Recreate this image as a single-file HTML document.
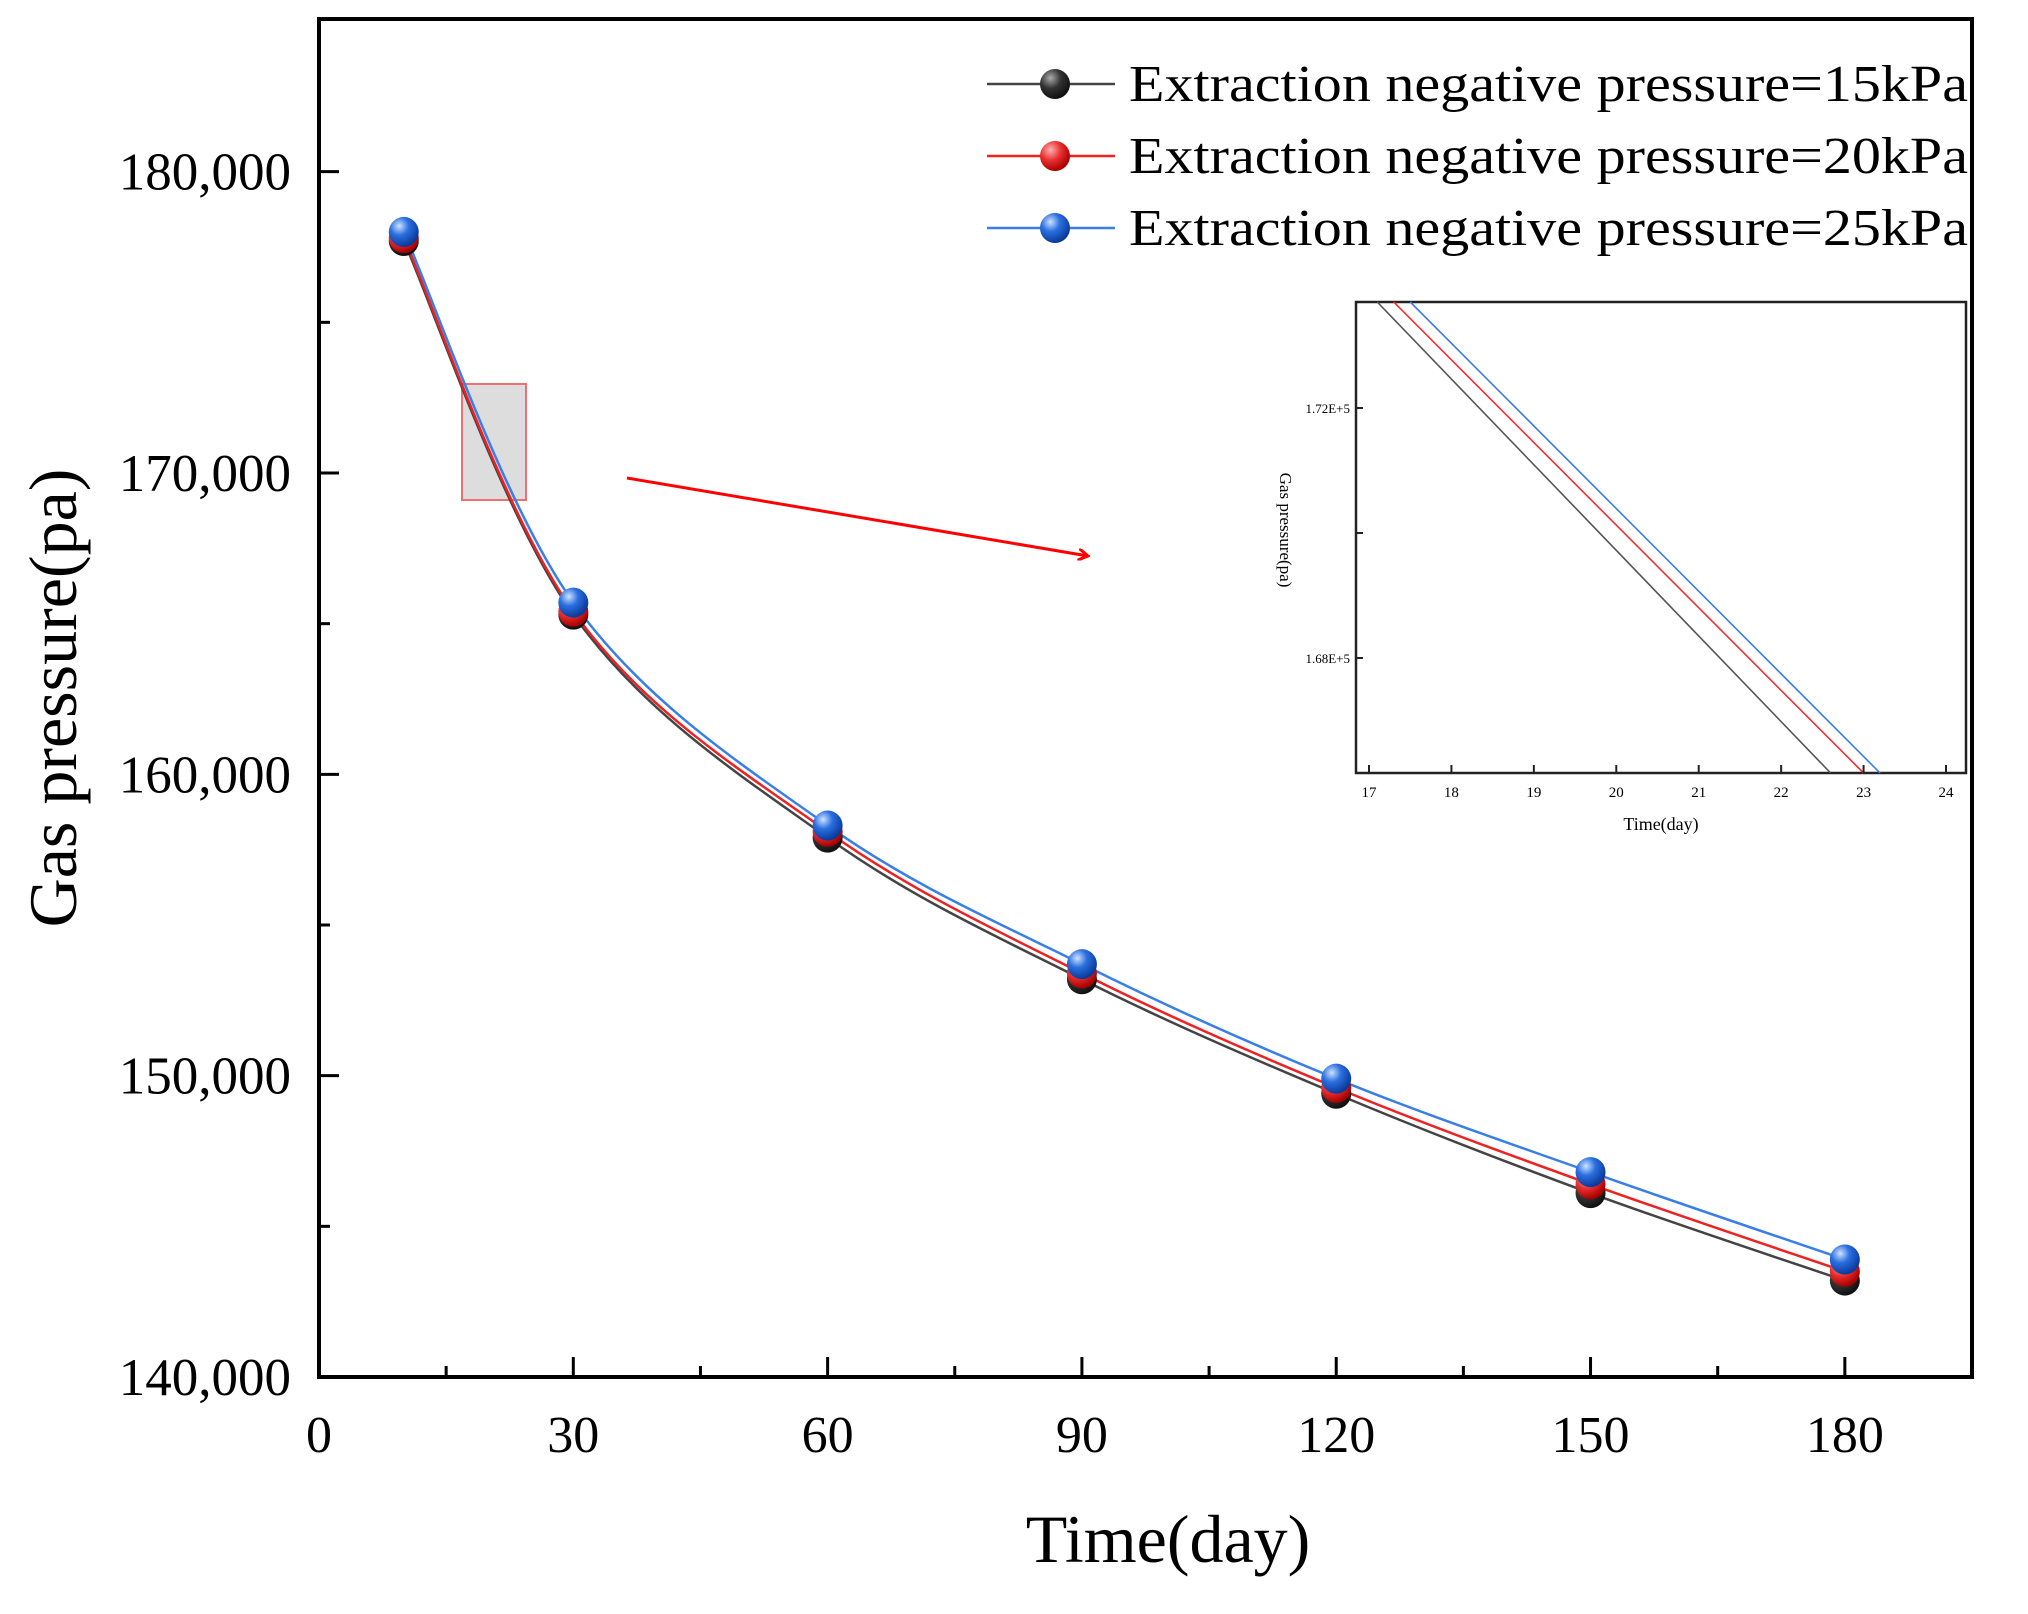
<!DOCTYPE html>
<html><head><meta charset="utf-8"><style>
html,body{margin:0;padding:0;background:#fff}
svg{display:block}
text{font-family:"Liberation Serif",serif;fill:#000}
</style></head><body>
<svg id="chart" width="2028" height="1614" viewBox="0 0 2028 1614">
<defs>
<radialGradient id="gBlack" cx="35%" cy="30%" r="70%"><stop offset="0" stop-color="#aaa"/><stop offset="0.5" stop-color="#333"/><stop offset="1" stop-color="#111"/></radialGradient>
<radialGradient id="gRed" cx="35%" cy="30%" r="70%"><stop offset="0" stop-color="#ffb0b0"/><stop offset="0.5" stop-color="#e83030"/><stop offset="1" stop-color="#a00"/></radialGradient>
<radialGradient id="gBlue" cx="35%" cy="30%" r="70%"><stop offset="0" stop-color="#cfe2ff"/><stop offset="0.45" stop-color="#2a6fe0"/><stop offset="1" stop-color="#0a3a9a"/></radialGradient>
<marker id="arrowHead" markerWidth="12" markerHeight="12" refX="10" refY="6" orient="auto" markerUnits="userSpaceOnUse"><path d="M0,0 L10,6 L0,12" fill="none" stroke="#f00" stroke-width="3"/></marker>
</defs>
<g id="plot"></g>
</svg>
<script>
const days = [10, 30, 60, 90, 120, 150, 180];
const p15 = [177700, 165300, 157900, 153200, 149400, 146100, 143200];
const p20 = [177800, 165400, 158100, 153400, 149600, 146400, 143500];
const p25 = [178000, 165700, 158300, 153700, 149900, 146800, 143900];
const xTicks = [0, 30, 60, 90, 120, 150, 180];
const yTicks = [140000, 150000, 160000, 170000, 180000];
const yTickLabels = ["140,000", "150,000", "160,000", "170,000", "180,000"];
const seriesLabels = ["Extraction negative pressure=15kPa", "Extraction negative pressure=20kPa", "Extraction negative pressure=25kPa"];
const insetXTicks = [17, 18, 19, 20, 21, 22, 23, 24];
const insetXTickLabels = ["17", "18", "19", "20", "21", "22", "23", "24"];
const insetStart = [17.1, 17.3, 17.5];
const insetEnd = [22.6, 23.0, 23.2];

const NS = "http://www.w3.org/2000/svg";
const g = document.getElementById("plot");
const L = 319, R = 1972, T = 19, B = 1377;
const X0 = 0, X1 = 195, Y0 = 140000, Y1 = 185000;
const sx = v => L + (v - X0) / (X1 - X0) * (R - L);
const sy = v => B - (v - Y0) / (Y1 - Y0) * (B - T - 2);
function el(tag, attrs, parent) {
  const e = document.createElementNS(NS, tag);
  for (const k in attrs) e.setAttribute(k, attrs[k]);
  (parent || g).appendChild(e);
  return e;
}
const frame = el("rect", {x: L, y: T, width: R - L, height: B - T, fill: "none", stroke: "#000", "stroke-width": 4});


for (let v = 15; v < X1; v += 15) {
  const major = v % 30 === 0;
  const t = el("line", {x1: sx(v), x2: sx(v), y1: B, y2: B - (major ? 20 : 11), stroke: "#000", "stroke-width": 3});
  
  
}
xTicks.forEach(v => {
  const t = el("text", {x: sx(v), y: 1452, "text-anchor": "middle", "font-size": 52});
  t.textContent = v;
  
  
});
for (let v = 145000; v < Y1; v += 5000) {
  const major = v % 10000 === 0;
  const t = el("line", {x1: L, x2: L + (major ? 20 : 11), y1: sy(v), y2: sy(v), stroke: "#000", "stroke-width": 3});
  
  
}
yTicks.forEach((v, i) => {
  const t = el("text", {x: 291, y: sy(v) + 18, "text-anchor": "end", "font-size": 53});
  t.textContent = yTickLabels[i];
  
  
});
const xt = el("text", {x: 1168, y: 1562, "text-anchor": "middle", "font-size": 68});
xt.textContent = "Time(day)";


const yt = el("text", {x: 0, y: 0, "text-anchor": "middle", "font-size": 68, transform: "translate(76,698) rotate(-90)"});
yt.textContent = "Gas pressure(pa)";


const zr = el("rect", {x: 462, y: 384, width: 64, height: 116, fill: "#ddd", stroke: "#f07070", "stroke-width": 2});


const ar = el("line", {x1: 627, y1: 478, x2: 1088, y2: 556, stroke: "#f00", "stroke-width": 3, "marker-end": "url(#arrowHead)"});


function pathFor(ys) {
  const pts = days.map((d, i) => [sx(d), sy(ys[i])]);
  let d = "M" + pts[0][0] + "," + pts[0][1];
  for (let i = 0; i < pts.length - 1; i++) {
    const p0 = pts[Math.max(0, i - 1)], p1 = pts[i], p2 = pts[i + 1], p3 = pts[Math.min(pts.length - 1, i + 2)];
    const c1 = [p1[0] + (p2[0] - p0[0]) / 6, p1[1] + (p2[1] - p0[1]) / 6];
    const c2 = [p2[0] - (p3[0] - p1[0]) / 6, p2[1] - (p3[1] - p1[1]) / 6];
    d += " C" + c1 + " " + c2 + " " + p2;
  }
  return d;
}
const series = [[p15, "#444", "url(#gBlack)", "series-15kpa"], [p20, "#f02020", "url(#gRed)", "series-20kpa"], [p25, "#3a7ee8", "url(#gBlue)", "series-25kpa"]];
series.forEach(([ys, col, grad, name]) => {
  const p = el("path", {d: pathFor(ys), fill: "none", stroke: col, "stroke-width": 2.5});
  
  
});
series.forEach(([ys, col, grad, name]) => {
  days.forEach((d, i) => {
    const c = el("circle", {cx: sx(d), cy: sy(ys[i]), r: 15, fill: grad});
    
    
  });
});
const legY = [84, 156, 228];
series.forEach(([ys, col, grad, name], i) => {
  const ln = el("line", {x1: 987, x2: 1115, y1: legY[i], y2: legY[i], stroke: col, "stroke-width": 2.5});
  
  
  const c = el("circle", {cx: 1055, cy: legY[i], r: 15, fill: grad});
  
  
  const t = el("text", {x: 1129, y: legY[i] + 17, "font-size": 52, textLength: 839, lengthAdjust: "spacingAndGlyphs"});
  t.textContent = seriesLabels[i];
  
  
});
const IL = 1356, IR = 1966, IT = 302, IB = 773;
const isx = v => 1369 + (v - 17) * (1946 - 1369) / 7;
const ib = el("rect", {x: IL, y: IT, width: IR - IL, height: IB - IT, fill: "#fff", stroke: "#222", "stroke-width": 2.5});


const inCols = ["#555", "#f03030", "#3a7ee8"];
insetStart.forEach((s, i) => {
  const l = el("line", {x1: isx(s), y1: IT, x2: isx(insetEnd[i]), y2: IB, stroke: inCols[i], "stroke-width": 1.6});
  
  
});
insetXTicks.forEach((v, i) => {
  const t = el("line", {x1: isx(v), x2: isx(v), y1: IB, y2: IB - 8, stroke: "#222", "stroke-width": 2});
  
  
  const tl = el("text", {x: isx(v), y: 797, "text-anchor": "middle", "font-size": 15});
  tl.textContent = insetXTickLabels[i];
  
  
});
[[408, "1.72E+5"], [533, ""], [658, "1.68E+5"]].forEach(([y, lab]) => {
  const t = el("line", {x1: IL, x2: IL + 7, y1: y, y2: y, stroke: "#222", "stroke-width": 2});
  
  
  if (lab) {
    const tl = el("text", {x: IL - 6, y: y + 5, "text-anchor": "end", "font-size": 13});
    tl.textContent = lab;
    
    
  }
});
const ixt = el("text", {x: 1661, y: 830, "text-anchor": "middle", "font-size": 18});
ixt.textContent = "Time(day)";


const iyt = el("text", {x: 0, y: 0, "text-anchor": "middle", "font-size": 17, transform: "translate(1280,530) rotate(90)"});
iyt.textContent = "Gas pressure(pa)";


</script>
</body></html>
